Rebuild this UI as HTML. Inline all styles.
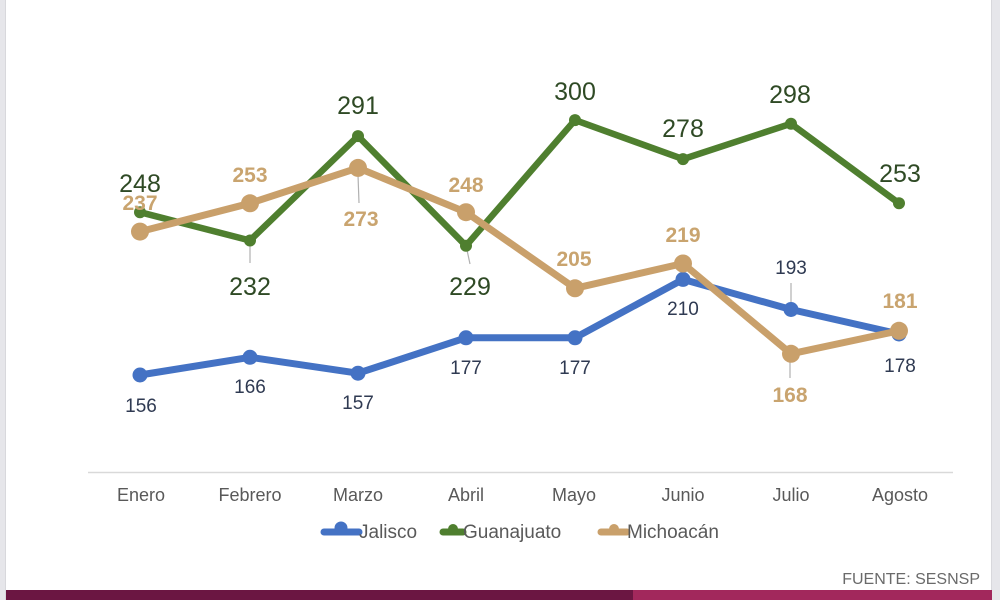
<!DOCTYPE html>
<html>
<head>
<meta charset="utf-8">
<style>
html,body{margin:0;padding:0;background:#fff;}
body{width:1000px;height:600px;overflow:hidden;}
svg{display:block;}
text{font-family:"Liberation Sans",sans-serif;}
</style>
</head>
<body>
<svg width="1000" height="600" viewBox="0 0 1000 600" xmlns="http://www.w3.org/2000/svg">
  <rect x="0" y="0" width="1000" height="600" fill="#ffffff"/>
  <!-- side borders -->
  <rect x="0" y="0" width="5" height="600" fill="#e6e6ea"/>
  <rect x="5" y="0" width="1" height="600" fill="#d8d8dc"/>
  <rect x="992" y="0" width="8" height="600" fill="#e6e6ea"/>
  <rect x="991" y="0" width="1" height="600" fill="#d8d8dc"/>
  <!-- bottom bar -->
  <rect x="6" y="590" width="627" height="10" fill="#6b1642"/>
  <rect x="633" y="590" width="359" height="10" fill="#a2285c"/>

  <!-- axis line -->
  <line x1="88" y1="472.5" x2="953" y2="472.5" stroke="#d9d9d9" stroke-width="1.5"/>

  <!-- month labels -->
  <g font-size="18" fill="#595959" text-anchor="middle">
    <text x="141" y="501">Enero</text>
    <text x="250" y="501">Febrero</text>
    <text x="358" y="501">Marzo</text>
    <text x="466" y="501">Abril</text>
    <text x="574" y="501">Mayo</text>
    <text x="683" y="501">Junio</text>
    <text x="791" y="501">Julio</text>
    <text x="900" y="501">Agosto</text>
  </g>

  <!-- leader lines -->
  <g stroke="#b0b0b0" stroke-width="1.2">
    <line x1="250" y1="245" x2="250" y2="263"/>
    <line x1="358" y1="175" x2="359" y2="203"/>
    <line x1="467" y1="250" x2="470" y2="264"/>
    <line x1="791" y1="283" x2="791" y2="305"/>
    <line x1="790" y1="360" x2="790" y2="378"/>
  </g>

  <!-- Jalisco -->
  <polyline fill="none" stroke="#4472c4" stroke-width="7" stroke-linejoin="round"
    points="140,375 250,357.3 358,373.2 466,337.8 575,337.8 683,279.4 791,309.5 899,334"/>
  <g fill="#4472c4">
    <circle cx="140" cy="375" r="7.5"/>
    <circle cx="250" cy="357.3" r="7.5"/>
    <circle cx="358" cy="373.2" r="7.5"/>
    <circle cx="466" cy="337.8" r="7.5"/>
    <circle cx="575" cy="337.8" r="7.5"/>
    <circle cx="683" cy="279.4" r="7.5"/>
    <circle cx="791" cy="309.5" r="7.5"/>
    <circle cx="899" cy="334" r="7.5"/>
  </g>

  <!-- Guanajuato -->
  <polyline fill="none" stroke="#4f7f2f" stroke-width="6.5" stroke-linejoin="round"
    points="140,212.2 250,240.5 358,136.1 466,245.8 575,120.1 683,159.1 791,123.7 899,203.3"/>
  <g fill="#4f7f2f">
    <circle cx="140" cy="212.2" r="6"/>
    <circle cx="250" cy="240.5" r="6"/>
    <circle cx="358" cy="136.1" r="6"/>
    <circle cx="466" cy="245.8" r="6"/>
    <circle cx="575" cy="120.1" r="6"/>
    <circle cx="683" cy="159.1" r="6"/>
    <circle cx="791" cy="123.7" r="6"/>
    <circle cx="899" cy="203.3" r="6"/>
  </g>

  <!-- Michoacan -->
  <polyline fill="none" stroke="#c9a06b" stroke-width="7" stroke-linejoin="round"
    points="140,231.6 250,203.3 358,167.9 466,212.2 575,288.3 683,263.5 791,353.8 899,330.8"/>
  <g fill="#c9a06b">
    <circle cx="140" cy="231.6" r="9"/>
    <circle cx="250" cy="203.3" r="9"/>
    <circle cx="358" cy="167.9" r="9"/>
    <circle cx="466" cy="212.2" r="9"/>
    <circle cx="575" cy="288.3" r="9"/>
    <circle cx="683" cy="263.5" r="9"/>
    <circle cx="791" cy="353.8" r="9"/>
    <circle cx="899" cy="330.8" r="9"/>
  </g>

  <!-- Michoacan labels -->
  <g font-size="21" font-weight="bold" fill="#c9a46f" text-anchor="middle">
    <text x="140" y="210">237</text>
    <text x="250" y="182">253</text>
    <text x="361" y="226">273</text>
    <text x="466" y="192">248</text>
    <text x="574" y="266">205</text>
    <text x="683" y="242">219</text>
    <text x="790" y="402">168</text>
    <text x="900" y="308">181</text>
  </g>

  <!-- Guanajuato labels -->
  <g font-size="25" fill="#2f4a25" text-anchor="middle">
    <text x="140" y="192">248</text>
    <text x="250" y="295">232</text>
    <text x="358" y="114">291</text>
    <text x="470" y="295">229</text>
    <text x="575" y="100">300</text>
    <text x="683" y="137">278</text>
    <text x="790" y="103">298</text>
    <text x="900" y="182">253</text>
  </g>

  <!-- Jalisco labels -->
  <g font-size="19" fill="#2f3a52" text-anchor="middle">
    <text x="141" y="412">156</text>
    <text x="250" y="393">166</text>
    <text x="358" y="409">157</text>
    <text x="466" y="374">177</text>
    <text x="575" y="374">177</text>
    <text x="683" y="315">210</text>
    <text x="791" y="274">193</text>
    <text x="900" y="372">178</text>
  </g>

  <!-- legend -->
  <g>
    <line x1="324" y1="532" x2="359" y2="532" stroke="#4472c4" stroke-width="7" stroke-linecap="round"/>
    <circle cx="341" cy="528" r="6.5" fill="#4472c4"/>
    <text x="359" y="538" font-size="19" fill="#595959">Jalisco</text>

    <line x1="443" y1="532" x2="463" y2="532" stroke="#4f7f2f" stroke-width="7" stroke-linecap="round"/>
    <circle cx="453" cy="529" r="5" fill="#4f7f2f"/>
    <text x="463" y="538" font-size="19" fill="#595959">Guanajuato</text>

    <line x1="601" y1="532" x2="627" y2="532" stroke="#c9a06b" stroke-width="7" stroke-linecap="round"/>
    <circle cx="614" cy="529" r="5" fill="#c9a06b"/>
    <text x="627" y="538" font-size="19" fill="#595959">Michoacán</text>
  </g>

  <!-- source -->
  <text x="980" y="584" font-size="16" fill="#6a6a6a" text-anchor="end">FUENTE: SESNSP</text>
</svg>
</body>
</html>
